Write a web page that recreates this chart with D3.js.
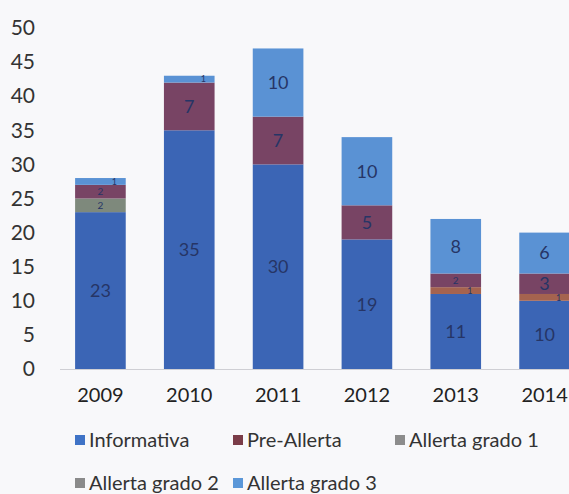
<!DOCTYPE html>
<html>
<head>
<meta charset="utf-8">
<script src="https://cdn.jsdelivr.net/npm/d3@7"></script>
<style>
  body { margin:0; background:#f8f8fa; }
  svg { display:block; font-family: Lato, "Open Sans", sans-serif; }
</style>
</head>
<body>
<svg id="chart"></svg>
<script>
// chart values
var years = ["2009", "2010", "2011", "2012", "2013", "2014"];
var informativa   = [23, 35, 30, 19, 11, 10];
var allertaGrado1 = [2, 0, 0, 0, 0, 0];
var allertaGrado2 = [0, 0, 0, 0, 1, 1];
var preAllerta    = [2, 7, 7, 5, 2, 3];
var allertaGrado3 = [1, 1, 10, 10, 8, 6];
var yTicks = [0, 5, 10, 15, 20, 25, 30, 35, 40, 45, 50];

// series in stacking order (bottom to top)
var stackKeys = ["Informativa", "Allerta grado 1", "Allerta grado 2", "Pre-Allerta", "Allerta grado 3"];
// legend order
var legendKeys = ["Informativa", "Pre-Allerta", "Allerta grado 1", "Allerta grado 2", "Allerta grado 3"];

var seriesValues = {
  "Informativa": informativa,
  "Pre-Allerta": preAllerta,
  "Allerta grado 1": allertaGrado1,
  "Allerta grado 2": allertaGrado2,
  "Allerta grado 3": allertaGrado3
};

var colors = {
  "Informativa": "#3b65b5",
  "Pre-Allerta": "#784464",
  "Allerta grado 1": "#7e897c",
  "Allerta grado 2": "#a5634f",
  "Allerta grado 3": "#5a92d4"
};
var legendColors = {
  "Informativa": "#3f73c6",
  "Pre-Allerta": "#7a3c48",
  "Allerta grado 1": "#8c8c8c",
  "Allerta grado 2": "#8a8a8a",
  "Allerta grado 3": "#5b97d8"
};

var width = 569, height = 494;
var svg = d3.select("#chart").attr("width", width).attr("height", height);

// table for d3.stack
var table = years.map(function (y, i) {
  var row = { year: y };
  stackKeys.forEach(function (k) { row[k] = seriesValues[k][i]; });
  return row;
});

var x = d3.scaleBand()
  .domain(years)
  .range([56, 589])
  .paddingInner(0.43)
  .paddingOuter(0.215);

var y = d3.scaleLinear()
  .domain([0, 50])
  .range([369, 28]);

var stacked = d3.stack().keys(stackKeys)(table);

// y axis labels only
var yAxis = d3.axisLeft(y).tickValues(yTicks).tickSize(0).tickPadding(0);
var yg = svg.append("g")
  .attr("transform", "translate(35,0)")
  .call(yAxis);
yg.select(".domain").remove();
yg.selectAll("text")
  .style("font-size", "21px")
  .style("fill", "#333")
  .style("font-family", "Lato, sans-serif");

// bars
var layers = svg.append("g").selectAll("g")
  .data(stacked)
  .enter().append("g")
  .attr("fill", function (d) { return colors[d.key]; });

layers.selectAll("rect")
  .data(function (d) { return d; })
  .enter().append("rect")
  .attr("x", function (d) { return x(d.data.year); })
  .attr("width", x.bandwidth())
  .attr("y", function (d) { return y(d[1]); })
  .attr("height", function (d) { return y(d[0]) - y(d[1]); });

// data labels: thin segments get small type, 1-unit ones nudged aside
function segSize(d) { return d[1] - d[0]; }
layers.selectAll("text")
  .data(function (d) { return d.filter(function (p) { return segSize(p) > 0; }); })
  .enter().append("text")
  .attr("x", function (d) { return x(d.data.year) + x.bandwidth() / 2 + (segSize(d) <= 1 ? 14 : 0); })
  .attr("y", function (d) { return y((d[0] + d[1]) / 2); })
  .attr("dy", "0.35em")
  .attr("text-anchor", "middle")
  .style("font-size", function (d) { return segSize(d) <= 1 ? "9px" : segSize(d) <= 2 ? "10px" : "18px"; })
  .style("fill", "#263566")
  .text(segSize);

// x axis
var xAxis = d3.axisBottom(x).tickSize(0).tickPadding(19);
var xg = svg.append("g")
  .attr("transform", "translate(0,369)")
  .call(xAxis);
xg.select(".domain").attr("stroke", "#cfcfd4").attr("d", "M60,0.5H569");
xg.selectAll("text")
  .style("font-size", "20px")
  .style("fill", "#222")
  .style("font-family", "Lato, sans-serif");

// legend
var legendPos = [
  { x: 75, y: 440 }, { x: 233, y: 440 }, { x: 395, y: 440 },
  { x: 75, y: 483 }, { x: 233, y: 483 }
];
var legend = svg.append("g").selectAll("g")
  .data(legendKeys)
  .enter().append("g")
  .attr("transform", function (d, i) { return "translate(" + legendPos[i].x + "," + legendPos[i].y + ")"; });
legend.append("rect")
  .attr("x", 0).attr("y", -5)
  .attr("width", 10).attr("height", 10)
  .attr("fill", function (d) { return legendColors[d]; });
legend.append("text")
  .attr("x", 14)
  .attr("dy", "0.35em")
  .style("font-size", "20px")
  .style("fill", "#333")
  .text(function (d) { return d; });
</script>
</body>
</html>
